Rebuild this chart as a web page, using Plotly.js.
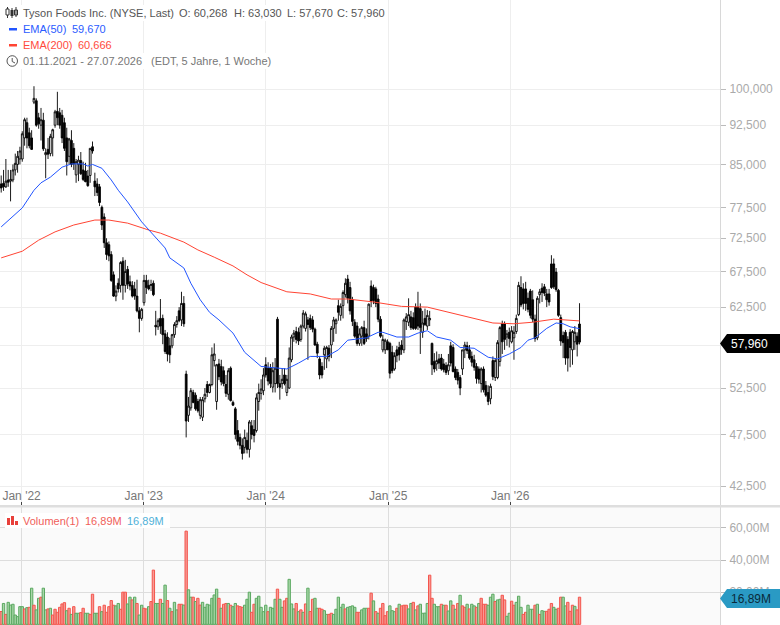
<!DOCTYPE html>
<html><head><meta charset="utf-8">
<script src="https://cdn.plot.ly/plotly-3.0.1.min.js"></script>
<style>html,body{margin:0;padding:0;background:#fff;overflow:hidden}#c{width:780px;height:625px}</style>
</head><body><div id="c"></div>
<script>
const opens=[81.5,81.6,81,82.2,82,82.2,84,85,86,86,
90,93,91,90,97.2,97.5,94,92.5,93.5,86.8,
87.8,87,90,92.5,95.3,95,94.5,93,90,86.5,
89.5,88,83.1,85,85.7,84,83.8,82.9,83,88.3,
82,81.5,81,77.5,75.9,71.8,71.5,70,67,64,
65.8,65.5,69,65.5,67.8,66,65.5,65,64,62,
61,63.1,66.2,65.5,65.5,65.8,60.1,59.9,61,61,
59,58.6,57.5,57.5,58.9,60.2,62,60.8,63,54.1,
49.5,50.3,52,51.7,51,49.5,49.3,51.3,52.9,52,
52.9,55.7,51,55.3,55,54.5,52.9,51.8,54.8,50.9,
50.2,47.9,47.2,46.4,46.2,46.9,46,48.4,48,47.9,
51,51.9,52.2,55.2,54.8,54.8,52.6,53,60.9,53,
53,54,52,52.5,55.8,58.6,59.3,59.2,58.3,60,
59.7,60.8,61,60.8,59.6,57.7,55.9,55,56.4,55.9,
57.2,57.6,59.7,60.3,62.7,61.4,62.7,64.2,66.4,65.2,
63.5,60.5,60,57.8,58.7,59.8,59,58.7,65.4,65.2,
65,63.6,60.9,57,57,58,57.8,56.7,54.7,57,
57.3,57.6,57,60.6,60.5,61.2,61.1,62.5,62.5,62.3,
59.2,61,60,60.8,57.8,55.6,55.3,55.9,56,55.3,
55.1,54.5,57.5,57.3,54.7,54.3,53.7,54.7,57,57.5,
57,56.2,55.8,55,54.7,53,54.7,52.8,52,51.3,
55.7,53.7,53.7,55.6,60.3,60.3,58.6,59.2,58,58.5,
59.3,61.5,65.2,65,65,63.7,64.7,63.5,60.9,58.5,
64.2,65.1,65.3,64.3,64.3,68.6,68.6,67.4,64.8,61.1,
58.8,59.2,58.3,59.2,57,58,58.7,60.268];
const highs=[83,84,86,84,84,85,87,87.5,88.3,91.3,
94,94,92,91.5,100.6,98,95,96,95,88,
90,90.8,91.8,95.6,99.4,96,95.6,94,92,90,
91.5,89,86,86.6,87.3,85.5,85.3,84,88,89.3,
83.5,82.5,81.5,77.8,76.5,72.5,72,70.5,67.5,65.5,
66.5,69,69.6,69.2,68.3,66.9,66.1,66,66.3,62.5,
62.4,67,67,66.3,66.3,66.2,62,61,63.6,61.5,
59.5,59.2,58.5,59,60.5,61.3,62.5,64.6,64,54.5,
51.5,52.5,52.3,52,51.3,51.5,51.5,52.5,53.3,53,
57.3,57.8,55.3,55.9,55.8,55,54,54.8,55,51.1,
50.4,49,47.6,47.1,48,47.7,49,49,49,51.9,
53,53.5,54.8,56.1,55.5,55.3,55.5,56,61.2,54,
54.8,54.8,54,57.3,58.9,59.5,59.9,59.8,60.2,62.1,
61.9,61.2,61.5,61.3,59.8,58,56.2,55.5,57.5,57.5,
57.6,60,61.2,61,63.5,63,64.8,66.5,67,66,
63.9,60.9,60.5,59.7,60,60.7,59.7,63,66.2,65.6,
65.3,64.2,61.3,58.9,58.4,58.3,58,57.5,56.7,57.5,
58,58.2,61,61.7,63.7,62,61.8,63,64.6,63,
62,62.3,62.1,62,57.9,56.6,56.8,56.5,56.5,55.9,
55.5,56.5,58,57.7,55,54.7,54,57,58,58,
57.6,56.8,56.4,55.4,55,54.9,55,53.3,52.8,53,
56.2,56,58.2,60,60.7,60.6,59.5,59.8,60,60,
61.5,66,66.8,65.8,66,64.5,65,64.8,61.5,64,
65,65.8,65.7,65,65,69.9,69.4,68,65,61.5,
59.3,59.5,58.7,59.6,59.5,60,59.2,63.03];
const lows=[80,80.3,80.8,81,78.5,81.8,83,83.5,85,85.5,
88.5,88,88,87.7,96.8,92.2,91.8,89.5,87.5,82.5,
86,86.5,86.5,92,92.5,91.8,89,87.5,83,85,
84.5,84,81.7,82,83.1,82,81.8,81,81.7,87,
79.4,79.4,77.7,73.8,71,69.2,69,66,63.9,63.3,
64.5,64.5,63.5,64.5,65,64.8,63.8,63.5,61.8,59.2,
60.7,62.7,64.3,64.8,64.7,64,58.8,59.5,59,57.7,
56.5,55.6,55.4,57.2,58.5,59.8,60.5,60,59.9,47.2,
48.8,50,50.8,50,49.8,49.1,48.9,50.9,51.5,51.9,
52.7,55,50.1,53.4,52.8,52.7,51.5,51.2,51,50.5,
47,46.4,46,45,45.6,45.6,45.2,47,46.7,47.7,
50,51.2,51.7,53.7,52.8,52.5,52,52,52.5,51.2,
52.4,52.8,51.6,52.4,55.5,58,57.8,57.6,58,59.7,
59.3,55.8,59.5,59.2,57.5,56,53.5,53.6,54.6,54.8,
55.6,56,58,59,60.7,60.7,61,63.8,63,61.5,
60,58.5,57.5,57.5,57.5,57.6,58,58.3,62.5,62.9,
62.5,60.5,58.5,56.7,56.5,57,53.6,54.2,54.5,55.5,
55.7,56.4,56.6,59.5,60,59.5,59.5,59.5,59.5,56.5,
58.5,60,59.5,60,54,54.3,54.5,54.7,54.5,54.3,
54,54,55,54.3,53.4,52.9,51.7,54,56,56.5,
55.8,55,54.5,53,53,52,52,51.5,50.6,50.7,
53.4,53.3,53.5,55,56.5,57,57.5,57.3,57.8,55.8,
59,61.3,62.5,62.2,62,61.8,61,60.5,58,58.2,
63,63.2,64,62.5,62.7,65,65,64.6,61.2,57.5,
56,55.2,54.4,54.9,55.2,57,56.2,57.67];
const closes=[80.8,81,82,81.8,82.3,84,85.2,86.5,87.5,90.8,
93.6,90,88.5,87.8,98,92.5,92.8,93.6,87.9,87.2,
86.9,90.3,91.6,95.2,94,92.5,90,88,85.5,89.8,
85,85.1,85.5,85.8,83.3,82.3,81.9,81.2,88,87.5,
81,80,78.3,74.6,71.8,70,69.8,66.2,64,64.7,
65,68.8,65.5,67.5,65.7,65.4,64,64,62,61,
62.2,66.2,65.2,65,65.6,64.2,59.9,60.7,60,58.9,
56.8,56.5,56.4,58.9,60.2,60.7,60.7,63,60.3,48.9,
50.5,52.2,50.9,50.2,50,51.2,51.2,51.8,52,52.9,
56.4,56.5,55.2,53.8,53.2,53,51.9,54.5,51.1,50.6,
47.5,46.8,46.4,45.6,47.2,46,48.8,47.5,47.4,51.4,
52,52.4,54,54,53.3,53,54.5,54.8,53,52.6,
53.5,53,53.5,56,58.6,59.1,58.3,58.1,60,61.7,
61.6,60.2,59.8,59.6,57.6,56.6,54,54,57.2,57.3,
56.2,59.7,60.8,60.8,61.8,62.6,64.5,65.8,63.7,62,
60.6,58.7,57.8,59,59.8,57.8,58.4,62.9,63.3,63.4,
63,60.9,58.7,58.3,58.2,57,54.2,54.5,56.3,56.3,
56.4,57,60.8,61.2,61.5,59.8,59.7,59.7,60,59.8,
60.4,60.2,61.4,61,55.2,54.7,55.7,55.4,54.7,54.6,
54.3,55.2,55.4,54.4,53.7,53.4,52.5,57,57.6,56.9,
56,55.5,54.9,53.6,53.5,54.7,52.3,51.7,51,52.7,
53.8,55.7,57.9,59.8,58,58.3,59,58.4,59.4,59.2,
61,65.5,62.8,63,63,62.2,61.4,60.9,58.4,63.7,
64.6,64.5,64.4,63.5,63.2,65.2,65.3,64.9,61.4,58.1,
57.9,56,56,57.3,59.3,59.2,57.7,57.96];

const volumes=[8,13,6.2,13.7,12,12.5,5.8,4.8,11,11,
9.6,10.4,10.6,22.5,11.9,9,16.2,16.9,22.5,9,
9.6,10,5.8,9.4,7.5,10.6,12.7,13.5,8.5,10,
6.2,11,6.9,6.9,7.3,10,6.9,6.9,6.2,18.75,
6.9,6.9,11,7.9,11.9,7.5,11,14.8,11.9,11.5,
13,9.4,20,20,12.7,16.9,15.2,16.9,13,5.8,
11.9,10,9.6,11,14.2,33.75,13,13,15.6,13,
24.4,14.8,10,7.9,13.7,9,12.5,12.5,12,58,
21.5,16.9,16.9,14.2,16.2,12,13.7,10.6,12.5,12,
16.2,18.3,21.9,16.2,10,12.5,13,13,11.9,11,
13,11.5,11,10.6,11.9,15.6,20,7.5,12.5,16.2,
17.5,10.6,7.9,11.9,7.9,10.6,10,15.6,21.9,15.6,
10.6,14.6,16.2,28,12.7,9.6,13,7.9,9,7.5,
12.7,22.5,8,15.6,16.2,10,10,9.4,8.5,6.2,
6.2,6.9,6.2,9.4,16.9,10.6,12.5,9.6,10.6,11,
11.5,10.6,7.5,7.5,9,10,10,10,19.4,14.6,
7.9,6.9,10,13,5.4,7.9,11.5,8.5,7.9,10,
12.5,11.5,11.9,11.9,9.6,13,13.7,9,11.5,12.5,
6.9,7,13,30.6,16.2,12.5,11,11,12.5,11.9,
11.9,8.3,14.6,11.9,9.4,13,18.1,11.5,10.6,12.5,
9.6,12.5,11.5,10.6,13,16.2,12.5,12.5,11.9,16.9,
18.75,14.2,15.2,15.6,18.1,15.2,5,6.9,14.4,11.9,
13.7,17.5,10.6,6.2,7.5,11.9,9.4,9.4,11.9,12.5,
6.2,8.5,8.1,8.1,9.4,13,10.6,9.4,10,16.9,
16.9,11.5,13.7,8.1,11.9,11.2,9,16.89];
const volumeFlags="rgrggggggg rgrgrggrgg rgrrrrrrgr grggrrggrr ggrgrrrrrg grrrggrgrg grrgrrggrg grgrggrrgr ggrgrrgggg gggrgrrgrg grrrgggrrg ggggrgggrg grrgggrgrg rgrrggrrgg rrgggggrgg ggrrgggrrg rgrrrrgggr grrrggrgrg gggrrgggrg rggrgrgrrg rggrgrrrgg grggrrggrr gggrrgggrg rggrrrggrr ggrrrgrrrr rgggrrgr".replace(/ /g,"");

const emaWeeks50=[0,4,9,14,17,21,26,30,35,37,39,43,47,50,54,60,64,70,72,78,81,85,89,93,99,104,111,116,122,127,132,139,144,148,156,161,163,169,174,178,182,186,192,196,202,208,212,217,222,225,228,233,237,240,243,247];
const ema50=[74.3,75.7,77.4,80.4,81.7,82.7,84.5,85.1,85.1,84.7,85,84.3,82.2,80.4,78.4,75.1,73.5,71,69.5,68,65.8,63.5,61.8,60.8,59.1,56.7,55,54.9,54.7,55.4,56.2,56.2,57,58.2,58.5,59.2,59.2,58.6,58.6,59.1,59.4,58.6,58.2,57.3,57.2,56.1,55.9,56.5,57.3,58.2,58.5,59.7,60.4,60.3,59.9,59.67];
const emaWeeks200=[0,9,16,23,31,40,46,54,63,68,78,84,91,99,105,111,122,132,141,148,159,171,182,191,202,210,219,227,236,247];
const ema200=[69.5,70.5,72.2,73.5,74.6,75.4,75.4,74.9,73.8,73.3,71.9,70.7,69.6,68.3,67,65.9,64.6,64.3,63.6,63.6,63.2,62.6,62.5,61.8,61,60.4,60.3,60.5,60.9,60.67];

const priceTicks=[100,92.5,85,77.5,72.5,67.5,62.5,57.5,52.5,47.5,42.5];
const priceTickText=["100,000","92,500","85,000","77,500","72,500","67,500","62,500","","52,500","47,500","42,500"];
const volTicks=[60,40,20];
const volTickText=["60,00M","40,00M","20,00M"];
const yearTicks=["2022-01-01","2023-01-01","2024-01-01","2025-01-01","2026-01-01"];
const yearText=["Jan '22","Jan '23","Jan '24","Jan '25","Jan '26"];

function weekDate(i){return new Date(Date.UTC(2021,10,1)+i*7*864e5).toISOString().slice(0,10);}
const dates=opens.map((_,i)=>weekDate(i));
const W=780,H=625,PW=720;
const px=x=>x/W, py=y=>1-y/H;
const FONT='"Liberation Sans",Arial,sans-serif';
const RED='#f4544c',GREEN='#5aa860',REDF='#f79a94',GREENF='#a8d6a8';

const traces=[
 {type:'candlestick',x:dates,open:opens,high:highs,low:lows,close:closes,xaxis:'x',yaxis:'y',whiskerwidth:0,hoverinfo:'skip',
  increasing:{line:{color:'#000',width:0.9},fillcolor:'#fff'},decreasing:{line:{color:'#000',width:0.9},fillcolor:'#000'}},
 {type:'scatter',mode:'lines',x:emaWeeks200.map(weekDate),y:ema200,xaxis:'x',yaxis:'y',line:{color:'#ff4433',width:1},hoverinfo:'skip'},
 {type:'scatter',mode:'lines',x:emaWeeks50.map(weekDate),y:ema50,xaxis:'x',yaxis:'y',line:{color:'#2255ff',width:1},hoverinfo:'skip'},
 {type:'bar',x:dates,y:volumes,xaxis:'x2',yaxis:'y2',hoverinfo:'skip',
  marker:{color:[...volumeFlags].map(f=>f==='r'?REDF:GREENF),line:{color:[...volumeFlags].map(f=>f==='r'?RED:GREEN),width:1}}}
];

function rect(x0,y0,x1,y1,fill,layer){return {type:'rect',xref:'paper',yref:'paper',x0:px(x0),x1:px(x1),y0:py(y1),y1:py(y0),fillcolor:fill,line:{width:0},layer:layer||'above'};}
function poly(pts,fill){return {type:'path',xref:'paper',yref:'paper',path:'M'+pts.map(p=>px(p[0])+','+py(p[1])).join('L')+'Z',fillcolor:fill,line:{width:0},layer:'above'};}
function seg(x0,y0,x1,y1,c,w){return {type:'line',xref:'paper',yref:'paper',x0:px(x0),x1:px(x1),y0:py(y0),y1:py(y1),line:{color:c,width:w||1},layer:'above'};}
const shapes=[
 rect(0,507,720,625,'#fafafa','below'),
 rect(0,505,780,507.5,'#dedede'),
 rect(15,5,388,21,'#fff'),rect(5,21,110,37,'#fff'),rect(5,37,115,53,'#fff'),rect(15,53,275,69,'#fff'),
 rect(5,513,170,528,'#fff'),
 seg(7.5,7,7.5,18,'#333'),rect(6,9,9,15,'#fff'),seg(6,9,9,9,'#333'),seg(6,15,9,15,'#333'),seg(6,9,6,15,'#333'),seg(9,9,9,15,'#333'),
 seg(12,8,12,18,'#333'),rect(10.5,10,13.5,16,'#333'),
 seg(16,7,16,17,'#333'),seg(14.5,10,17.5,10,'#333'),seg(14.5,15,17.5,15,'#333'),seg(14.5,10,14.5,15,'#333'),seg(17.5,10,17.5,15,'#333'),
 rect(9,28,17,30.5,'#2255ff'),rect(9,44,17,46.5,'#ff4433'),
 {type:'circle',xref:'paper',yref:'paper',x0:px(7),x1:px(17.5),y0:py(66.3),y1:py(55.7),line:{color:'#555',width:1},layer:'above'},
 seg(12.2,58,12.2,61.5,'#555'),seg(12.2,61.5,15,63,'#555'),
 rect(7,518,10,525,'#e8403a'),rect(11,516,14,525,'#e8403a'),rect(15,521,18,525,'#e8403a'),
 poly([[720,343.5],[727,334],[780,334],[780,353],[727,353]],'#000'),
 poly([[720,598.5],[727,589],[780,589],[780,608],[727,608]],'#2a9ac4')
];
function note(x,y,t,c,sz){return {xref:'paper',yref:'paper',x:px(x),y:py(y),xanchor:'left',yanchor:'middle',text:t,showarrow:false,borderpad:0,borderwidth:0,font:{family:FONT,size:sz||11,color:c}};}
const GR='#555';
const annotations=[
 note(23,13,'Tyson Foods Inc. (NYSE, Last)',GR),
 note(179,13,'O: 60,268',GR),note(234,13,'H: 63,030',GR),note(287,13,'L: 57,670',GR),note(337,13,'C: 57,960',GR),
 note(23,29,'EMA(50)','#2b5cff'),note(72,29,'59,670','#2b5cff'),
 note(23,45,'EMA(200)','#ff4a3c'),note(78,45,'60,666','#ff4a3c'),
 note(23,61,'01.11.2021 - 27.07.2026','#777'),note(151,61,'(EDT, 5 Jahre, 1 Woche)','#777'),
 note(23,520.5,'Volumen(1)','#f0605a'),note(85,520.5,'16,89M','#f0605a'),note(127,520.5,'16,89M','#4fb0d8'),
 note(731,343.5,'57,960','#fff',12),note(731,598.5,'16,89M','#0a2a3a',12)
];
const xCommon={type:'date',range:['2021-10-28 10:00','2027-09-20'],domain:[0,PW/W],showgrid:true,zeroline:false,
 tickmode:'array',tickvals:yearTicks,ticktext:yearText,rangeslider:{visible:false}};
const layout={width:W,height:H,margin:{l:0,r:0,t:0,b:0,pad:0},paper_bgcolor:'#fff',plot_bgcolor:'rgba(0,0,0,0)',showlegend:false,
 font:{family:FONT,size:12,color:'#aaa'},boxgap:0.25,boxgroupgap:0,bargap:0,
 xaxis:Object.assign({},xCommon,{anchor:'y',gridcolor:'#eeeeee',gridwidth:1,ticks:'inside',ticklen:3,tickcolor:'#444',tickwidth:1,
   ticklabelposition:'inside',ticklabelstandoff:-1,tickfont:{family:FONT,size:12,color:'#777'},showline:false}),
 xaxis2:Object.assign({},xCommon,{anchor:'y2',matches:'x',gridcolor:'#dddddd',gridwidth:1,ticks:'',showticklabels:false,showline:false}),
 yaxis:{type:'log',domain:[120/625,1],range:[1.6107,2.0833],anchor:'x',side:'right',tickmode:'array',tickvals:priceTicks,ticktext:priceTickText,
   gridcolor:'#eeeeee',gridwidth:1,showline:true,linecolor:'#d8d8d8',linewidth:1,ticks:'outside',ticklen:5,tickcolor:'#bbb',ticklabelstandoff:1,tickfont:{family:FONT,size:12,color:'#aaa'},zeroline:false},
 yaxis2:{type:'linear',domain:[0,118/625],range:[-0.4,73],anchor:'x2',side:'right',tickmode:'array',tickvals:volTicks,ticktext:volTickText,
   gridcolor:'#dddddd',gridwidth:1,showline:true,linecolor:'#d8d8d8',linewidth:1,ticks:'outside',ticklen:5,tickcolor:'#bbb',ticklabelstandoff:1,tickfont:{family:FONT,size:12,color:'#aaa'},zeroline:false},
 shapes:shapes,annotations:annotations
};
Plotly.newPlot('c',traces,layout,{displayModeBar:false,staticPlot:true});
</script></body></html>
